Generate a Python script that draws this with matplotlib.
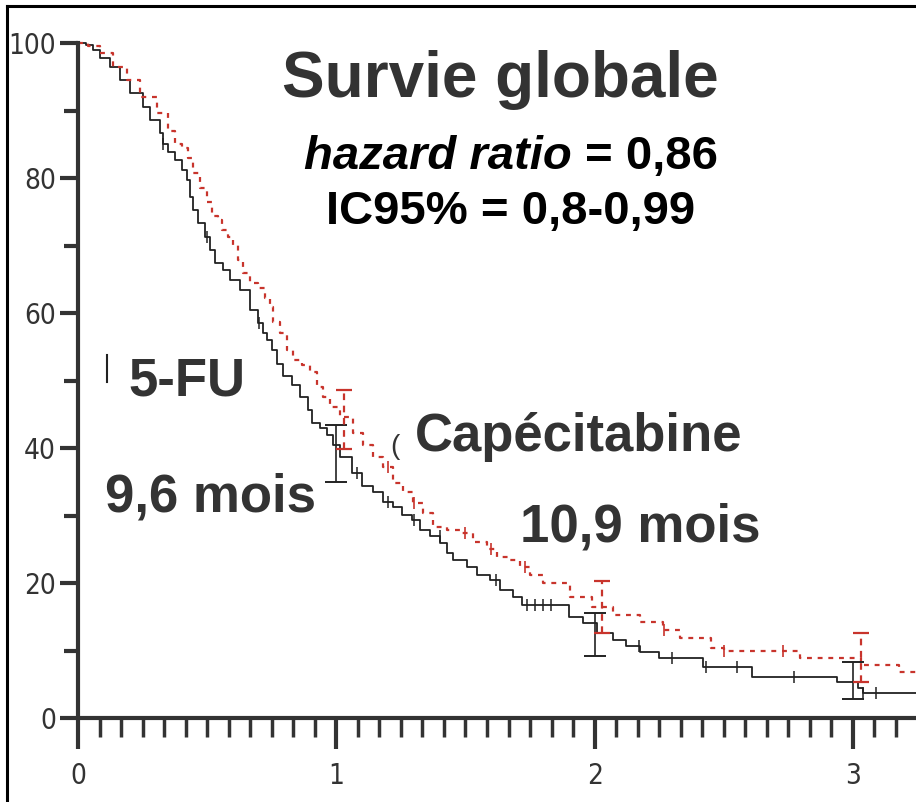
import numpy as np
import matplotlib
matplotlib.use("Agg")
import matplotlib.pyplot as plt
from matplotlib.lines import Line2D

# Kaplan-Meier, survie globale (années)
fu_t = [0, 0.03, 0.06, 0.085, 0.124, 0.163, 0.2, 0.252, 0.279, 0.317, 0.330,
        0.350, 0.376, 0.401, 0.421, 0.434, 0.446, 0.466, 0.492, 0.511, 0.530,
        0.563, 0.588, 0.627, 0.666, 0.698, 0.717, 0.730, 0.750, 0.769, 0.795,
        0.827, 0.859, 0.892, 0.905, 0.937, 0.963, 0.988, 1.014, 1.060, 1.098,
        1.143, 1.182, 1.221, 1.253, 1.292, 1.324, 1.363, 1.401, 1.427, 1.453,
        1.505, 1.543, 1.595, 1.634, 1.685, 1.72, 1.9, 1.955, 2.01, 2.07, 2.12,
        2.175, 2.25, 2.42, 2.61, 2.94, 3.02, 3.04, 3.244]
fu_s = [100, 99.7, 99.0, 97.8, 96.4, 94.5, 92.6, 90.5, 88.6, 86.6, 85.1,
        83.9, 82.7, 81.2, 79.7, 77.2, 75.3, 73.3, 71.3, 69.3, 67.4,
        66.4, 64.9, 63.4, 60.4, 58.5, 57.0, 56.0, 54.5, 52.5, 50.6,
        49.3, 47.6, 45.6, 43.7, 42.9, 41.9, 40.4, 38.7, 36.3, 34.3,
        33.5, 32.0, 31.3, 30.1, 29.3, 27.9, 26.9, 25.9, 24.4, 23.4,
        22.4, 21.2, 20.4, 19.0, 18.0, 16.7, 15.0, 14.1, 12.6, 11.6, 10.6,
        9.8, 8.9, 7.6, 6.1, 5.3, 4.4, 3.7, 3.7]

cap_t = [0, 0.04, 0.085, 0.136, 0.19, 0.24, 0.306, 0.350, 0.376, 0.401, 0.427,
         0.446, 0.472, 0.498, 0.518, 0.543, 0.556, 0.582, 0.601, 0.621, 0.640,
         0.666, 0.698, 0.724, 0.743, 0.756, 0.782, 0.808, 0.834, 0.866, 0.898,
         0.924, 0.950, 0.976, 1.014, 1.066, 1.105, 1.143, 1.182, 1.221, 1.259,
         1.298, 1.337, 1.376, 1.427, 1.479, 1.530, 1.582, 1.621, 1.672, 1.711,
         1.750, 1.8, 1.905, 1.99, 2.07, 2.175, 2.265, 2.33, 2.45, 2.5, 2.795,
         3.03, 3.18, 3.244]
cap_s = [100, 99.5, 98.5, 96.4, 94.5, 92.0, 89.6, 86.9, 85.1, 84.4, 82.9,
         80.7, 78.5, 76.5, 74.3, 73.8, 72.3, 71.3, 70.1, 67.9, 65.9,
         64.4, 63.7, 62.2, 60.9, 58.7, 57.0, 54.5, 53.0, 52.3, 51.3,
         49.1, 47.6, 46.1, 44.6, 42.2, 40.4, 38.7, 37.2, 34.8, 33.5,
         31.8, 30.3, 28.3, 27.9, 27.4, 26.1, 25.1, 23.9, 23.4, 22.4,
         21.2, 20.0, 17.9, 16.4, 15.3, 14.2, 13.0, 11.9, 10.4, 9.9, 8.9,
         7.9, 6.8, 6.8]

# intervalles de confiance à 1, 2 et 3 ans
fu_ci_t = [1.0, 2.0, 3.0]
fu_ci_lo = [35.0, 9.2, 2.8]
fu_ci_hi = [43.4, 15.6, 8.3]
cap_ci_t = [1.03, 2.03, 3.03]
cap_ci_lo = [39.9, 12.6, 5.3]
cap_ci_hi = [48.6, 20.3, 12.6]

# patients censurés
fu_cens = [0.33, 0.5, 0.7, 1.08, 1.2, 1.3, 1.4, 1.62, 1.74, 1.77, 1.8, 1.83,
           2.17, 2.3, 2.43, 2.55, 2.77, 3.04, 3.09]
cap_cens = [1.2, 1.3, 1.5, 1.6, 1.73, 2.27, 2.5, 2.73]

x_ticks = [0, 1, 2, 3]
y_ticks = [0, 20, 40, 60, 80, 100]

BLACK = "#222222"
RED = "#c8342c"
GREY = "#333333"


def step_value(ts, ss, t):
    i = np.searchsorted(ts, t, side="right") - 1
    return np.asarray(ss)[i]


fig = plt.figure(figsize=(9.16, 8.02), dpi=100)
ax = fig.add_axes([78 / 916, 84 / 802, 1 - 78 / 916, 675 / 802])

ax.step(fu_t, fu_s, where="post", color=BLACK, lw=1.3, clip_on=False)
ax.step(cap_t, cap_s, where="post", color=RED, lw=1.6, ls=(0, (2.2, 2.6)), clip_on=False)

ax.plot(fu_cens, step_value(fu_t, fu_s, fu_cens), ls="none", marker="|",
        ms=9, mew=1.1, color=BLACK)
ax.plot(cap_cens, step_value(cap_t, cap_s, cap_cens), ls="none", marker="|",
        ms=8, mew=1.2, color=RED)

ax.errorbar(fu_ci_t, [(a + b) / 2 for a, b in zip(fu_ci_lo, fu_ci_hi)],
            yerr=[[(b - a) / 2 for a, b in zip(fu_ci_lo, fu_ci_hi)]] * 2,
            fmt="none", ecolor=BLACK, elinewidth=1.2, capsize=8, capthick=1.4)
eb = ax.errorbar(cap_ci_t, [(a + b) / 2 for a, b in zip(cap_ci_lo, cap_ci_hi)],
                 yerr=[[(b - a) / 2 for a, b in zip(cap_ci_lo, cap_ci_hi)]] * 2,
                 fmt="none", ecolor=RED, elinewidth=1.6, capsize=6, capthick=1.6)
eb[2][0].set_linestyle((0, (3, 2.5)))

ax.set_xlim(0, 3.244)
ax.set_ylim(0, 100)
for s in ["top", "right"]:
    ax.spines[s].set_visible(False)
for s in ["left", "bottom"]:
    ax.spines[s].set_linewidth(3)
    ax.spines[s].set_color(GREY)
ax.spines["bottom"].set_capstyle("butt")

ax.set_xticks(x_ticks)
ax.set_xticks(np.arange(0, 3.25, 1 / 12), minor=True)
ax.set_yticks(y_ticks)
ax.set_yticks([10, 30, 50, 70, 90], minor=True)
ax.tick_params(axis="x", which="major", length=22, width=3, color=GREY, pad=10)
ax.tick_params(axis="x", which="minor", length=14, width=2.5, color=GREY)
ax.tick_params(axis="y", which="major", length=13, width=3, color=GREY, pad=3)
ax.tick_params(axis="y", which="minor", length=10, width=3, color=GREY)
for lab in ax.get_xticklabels() + ax.get_yticklabels():
    lab.set_family(["DejaVu Sans"])
    lab.set_stretch("condensed")
    lab.set_fontsize(20)
    lab.set_color(GREY)

# textes
big = dict(family=["Liberation Sans", "DejaVu Sans"], weight="bold")
fig.text(0.546, 0.900, "Survie globale", ha="center", va="center",
         fontsize=46, color=GREY, **big)
fig.text(572 / 916, 0.804, "hazard ratio", ha="right", va="center",
         fontsize=34, style="italic", color="black", **big)
fig.text(585 / 916, 0.804, "= 0,86", ha="left", va="center",
         fontsize=34, color="black", **big)
fig.text(0.557, 0.736, "IC95% = 0,8-0,99", ha="center", va="center",
         fontsize=34, color="black", **big)
fig.text(128 / 916, 0.524, "5-FU", ha="left", va="center", fontsize=38, color=GREY, **big)
fig.text(415 / 916, 0.455, "Capécitabine", ha="left", va="center", fontsize=38, color=GREY, **big)
fig.text(105 / 916, 0.380, "9,6 mois", ha="left", va="center", fontsize=38, color=GREY, **big)
fig.text(520 / 916, 0.342, "10,9 mois", ha="left", va="center", fontsize=38, color=GREY, **big)
fig.text(390 / 916, 0.443, "(", ha="left", va="center", fontsize=20, color=GREY,
         family=["Liberation Sans", "DejaVu Sans"])
fig.add_artist(Line2D([107 / 916, 107 / 916], [1 - 355 / 802, 1 - 382 / 802],
                      color=BLACK, lw=1.5))

# cadre
fig.add_artist(Line2D([7 / 916, 1], [1 - 6 / 802, 1 - 6 / 802], color="black", lw=2.2))
fig.add_artist(Line2D([7 / 916, 7 / 916], [0, 1 - 6 / 802], color="black", lw=2.2))

fig.savefig("out.png", dpi=100, facecolor="white")
